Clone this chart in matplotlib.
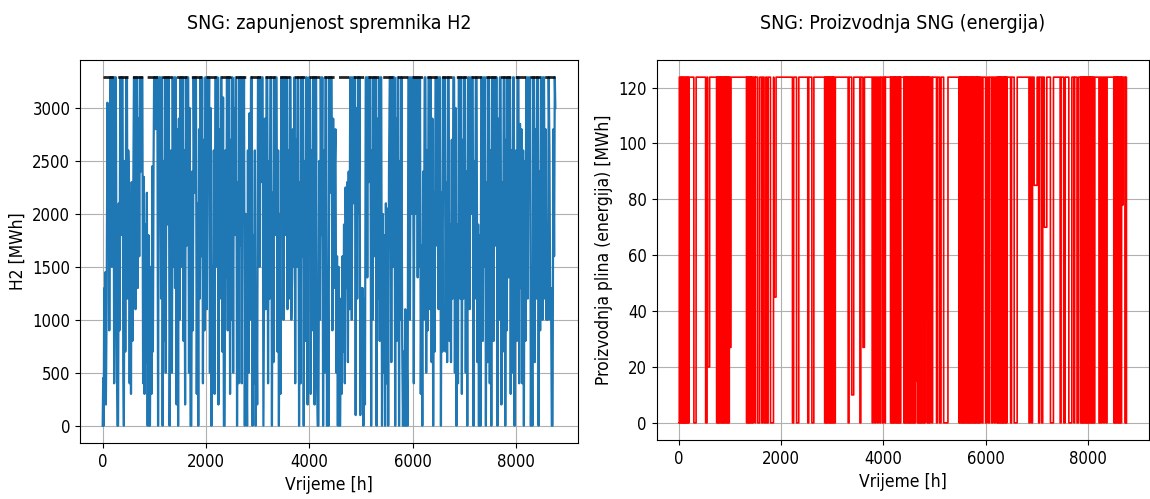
import matplotlib
matplotlib.use("Agg")
import matplotlib.pyplot as plt

# ---------------- data ----------------
# H2 storage level, turning points of the hourly series: (hour, MWh), in blocks of ~500 h
h2_0000 = [(0, 0), (10, 450), (20, 0), (30, 1300), (40, 700), (52, 1450), (62, 200), (78, 1200), (92, 3050), (102, 1800),
           (118, 3000), (128, 900), (145, 3290), (165, 3290), (178, 1500), (192, 3290), (210, 3290), (222, 400), (238, 3290),
           (255, 3290), (270, 900), (285, 0), (298, 0), (312, 2100), (325, 900), (340, 3290), (352, 1800), (368, 3290),
           (385, 3290), (398, 600), (410, 0), (425, 2500), (438, 700), (455, 3290), (470, 3290), (482, 1200), (495, 2600)]
h2_0500 = [(510, 2300), (522, 400), (535, 2200), (548, 300), (562, 2300), (575, 800), (590, 2000), (605, 3290), (620, 3290),
           (635, 1100), (650, 3290), (665, 3290), (680, 1300), (695, 2900), (708, 1600), (722, 3290), (738, 2400), (752, 3290),
           (768, 3290), (782, 400), (796, 2350), (810, 300), (825, 1900), (840, 600), (855, 2200), (870, 0), (885, 1800),
           (900, 0), (915, 0), (930, 1500), (945, 300), (960, 2450), (972, 700), (985, 2500)]
h2_1000 = [(995, 3290), (1010, 3290), (1025, 2800), (1040, 3290), (1058, 3290), (1072, 0), (1088, 3290), (1100, 2100),
           (1115, 3290), (1130, 1200), (1145, 3290), (1160, 0), (1175, 2500), (1190, 800), (1205, 3290), (1220, 500),
           (1235, 3290), (1250, 1900), (1265, 3290), (1280, 3290), (1295, 0), (1310, 1400), (1325, 2600), (1340, 500),
           (1355, 3290), (1370, 1500), (1385, 3290), (1400, 1300), (1415, 3290), (1430, 200), (1445, 2800), (1460, 0),
           (1475, 2900), (1490, 1000)]
h2_1500 = [(1505, 3290), (1520, 1500), (1535, 3290), (1550, 3290), (1565, 800), (1580, 2600), (1595, 200), (1610, 3290),
           (1625, 1700), (1640, 3290), (1655, 3290), (1670, 500), (1685, 3000), (1700, 0), (1715, 0), (1730, 2400),
           (1745, 900), (1760, 3290), (1775, 2200), (1790, 3290), (1805, 3290), (1820, 300), (1835, 2100), (1850, 0),
           (1865, 2800), (1880, 1200), (1895, 3290), (1910, 1600), (1925, 3290), (1940, 400), (1955, 2700), (1970, 900),
           (1985, 3290)]
h2_2000 = [(2000, 3290), (2015, 1100), (2030, 3290), (2045, 2400), (2060, 3290), (2075, 500), (2090, 3000), (2105, 0),
           (2120, 1500), (2135, 600), (2150, 2600), (2165, 300), (2180, 3290), (2195, 3290), (2210, 1500), (2225, 3290),
           (2240, 200), (2255, 2800), (2270, 1200), (2285, 3290), (2300, 3290), (2315, 700), (2330, 3100), (2345, 0),
           (2360, 0), (2375, 2600), (2390, 1400), (2405, 3290), (2420, 900), (2435, 3290), (2450, 3290), (2465, 300),
           (2480, 2700), (2495, 1000)]
h2_2500 = [(2510, 3290), (2525, 500), (2540, 3000), (2555, 1800), (2570, 3290), (2585, 3290), (2600, 0), (2615, 2300),
           (2630, 400), (2645, 3290), (2660, 1700), (2675, 3290), (2690, 400), (2705, 3290), (2720, 2200), (2735, 3290),
           (2750, 0), (2765, 2000), (2780, 800), (2795, 0), (2810, 2600), (2825, 500), (2840, 2950), (2855, 1000),
           (2870, 3290), (2885, 3290), (2900, 0), (2915, 1800), (2930, 400), (2945, 2600), (2960, 0), (2975, 1300),
           (2990, 200)]
h2_3000 = [(3005, 3290), (3020, 3290), (3035, 1500), (3050, 3290), (3065, 2300), (3080, 3290), (3095, 3290), (3110, 0),
           (3125, 1400), (3140, 2900), (3155, 1100), (3170, 3290), (3185, 3290), (3200, 400), (3215, 2500), (3230, 1200),
           (3245, 3290), (3260, 3290), (3275, 0), (3290, 2200), (3305, 600), (3320, 3290), (3335, 1800), (3350, 3290),
           (3365, 3290), (3380, 700), (3395, 2600), (3410, 0), (3425, 2000), (3440, 300), (3455, 3290), (3470, 2100),
           (3485, 3290)]
h2_3500 = [(3500, 1000), (3515, 3290), (3530, 3290), (3545, 1800), (3560, 3290), (3575, 1100), (3590, 2600), (3605, 1200),
           (3620, 3290), (3635, 3290), (3650, 1000), (3665, 1400), (3680, 2800), (3695, 1500), (3710, 3290), (3725, 400),
           (3740, 2700), (3755, 1500), (3770, 3290), (3785, 3290), (3800, 0), (3815, 2300), (3830, 400), (3845, 3290),
           (3860, 1600), (3875, 3290), (3890, 0), (3905, 2500), (3920, 800), (3935, 3290), (3950, 3290), (3965, 200),
           (3980, 2300)]
h2_4000 = [(3995, 3290), (4010, 3290), (4025, 300), (4040, 2600), (4055, 900), (4070, 3290), (4085, 3290), (4100, 200),
           (4115, 3290), (4130, 3290), (4145, 500), (4160, 0), (4175, 0), (4190, 2500), (4205, 1000), (4220, 3290),
           (4235, 1800), (4250, 3290), (4265, 0), (4280, 2600), (4295, 500), (4310, 3290), (4325, 3290), (4340, 0),
           (4355, 1500), (4370, 0), (4385, 3290), (4400, 2200), (4415, 3290), (4430, 3290), (4445, 900), (4460, 2900),
           (4475, 1300), (4490, 2400)]
h2_4500 = [(4505, 2800), (4520, 500), (4535, 1600), (4550, 0), (4565, 1500), (4580, 0), (4595, 0), (4610, 1200),
           (4625, 300), (4640, 1600), (4655, 700), (4670, 1900), (4685, 400), (4700, 2250), (4715, 1300), (4730, 2300),
           (4745, 600), (4760, 2400), (4775, 1100), (4790, 3290), (4805, 3290), (4820, 1000), (4835, 3290), (4850, 2100),
           (4865, 3290), (4880, 3290), (4895, 100), (4910, 3000), (4925, 1200), (4940, 3290), (4955, 2000), (4970, 3290),
           (4985, 100)]
h2_5000 = [(5000, 1300), (5015, 500), (5030, 1300), (5045, 0), (5060, 1200), (5075, 200), (5090, 3290), (5105, 3290),
           (5120, 1400), (5135, 3290), (5150, 2300), (5165, 3290), (5180, 3290), (5195, 0), (5210, 2600), (5225, 1000),
           (5240, 3290), (5255, 1600), (5270, 3290), (5285, 3290), (5300, 0), (5315, 2900), (5330, 1200), (5345, 3290),
           (5360, 800), (5375, 3290), (5390, 3290), (5405, 0), (5420, 2000), (5435, 500), (5450, 1800), (5465, 0),
           (5480, 2100), (5495, 400)]
h2_5500 = [(5510, 2050), (5525, 0), (5540, 2400), (5555, 3290), (5570, 3290), (5585, 600), (5600, 3290), (5615, 3290),
           (5630, 1500), (5645, 3290), (5660, 0), (5675, 2900), (5690, 800), (5705, 3290), (5720, 3290), (5735, 0),
           (5750, 2500), (5765, 1000), (5780, 3290), (5795, 800), (5810, 0), (5825, 700), (5840, 0), (5855, 1100),
           (5870, 0), (5885, 600), (5900, 0), (5915, 3290), (5930, 3290), (5945, 1000), (5960, 3290), (5975, 2000),
           (5990, 3290)]
h2_6000 = [(6005, 3290), (6020, 400), (6035, 3290), (6050, 2000), (6065, 3290), (6080, 3290), (6095, 1400), (6110, 3290),
           (6125, 1500), (6140, 3290), (6155, 300), (6170, 1700), (6185, 0), (6200, 2400), (6215, 1000), (6230, 3290),
           (6245, 3290), (6260, 500), (6275, 2600), (6290, 900), (6305, 3290), (6320, 3290), (6335, 1100), (6350, 3290),
           (6365, 600), (6380, 2900), (6395, 0), (6410, 2200), (6425, 700), (6440, 3290), (6455, 3290), (6470, 1700),
           (6485, 3290)]
h2_6500 = [(6500, 1100), (6515, 3290), (6530, 3290), (6545, 0), (6560, 2200), (6575, 700), (6590, 3290), (6605, 2700),
           (6620, 3290), (6635, 700), (6650, 2300), (6665, 600), (6680, 3290), (6695, 3290), (6710, 800), (6725, 1900),
           (6740, 600), (6755, 2700), (6770, 1200), (6785, 3290), (6800, 3290), (6815, 500), (6830, 3000), (6845, 0),
           (6860, 1900), (6875, 400), (6890, 3290), (6905, 3290), (6920, 1200), (6935, 3290), (6950, 300), (6965, 2700),
           (6980, 1200), (6995, 3290)]
h2_7000 = [(7010, 3290), (7025, 500), (7040, 2400), (7055, 0), (7070, 3290), (7085, 3290), (7100, 1100), (7115, 3290),
           (7130, 2000), (7145, 3290), (7160, 3290), (7175, 0), (7190, 2500), (7205, 1200), (7220, 3290), (7235, 3290),
           (7250, 600), (7265, 1900), (7280, 0), (7295, 1800), (7310, 0), (7325, 3290), (7340, 3290), (7355, 800),
           (7370, 3290), (7385, 1500), (7400, 3290), (7415, 0), (7430, 2300), (7445, 600), (7460, 3290), (7475, 3290),
           (7490, 400)]
h2_7500 = [(7505, 2600), (7520, 0), (7535, 3290), (7550, 3290), (7565, 800), (7580, 3290), (7595, 1700), (7610, 3290),
           (7625, 3290), (7640, 0), (7655, 2900), (7670, 1000), (7685, 3290), (7700, 3290), (7715, 200), (7730, 2300),
           (7745, 700), (7760, 3290), (7775, 3290), (7790, 0), (7805, 2700), (7820, 900), (7835, 3290), (7850, 1400),
           (7865, 3290), (7880, 3290), (7895, 300), (7910, 2600), (7925, 500), (7940, 3290), (7955, 3290), (7970, 0),
           (7985, 2100)]
h2_8000 = [(8000, 2600), (8015, 800), (8030, 3290), (8045, 3290), (8060, 400), (8075, 2850), (8090, 1300), (8105, 2800),
           (8120, 400), (8135, 2600), (8150, 0), (8165, 2500), (8180, 800), (8195, 3290), (8210, 3290), (8225, 1200),
           (8240, 3290), (8255, 2500), (8270, 3290), (8285, 0), (8300, 1500), (8315, 0), (8330, 3290), (8345, 3290),
           (8360, 600), (8375, 2800), (8390, 1200), (8405, 3290), (8420, 3290), (8435, 0), (8450, 2400), (8465, 900),
           (8480, 3290), (8495, 3290)]
h2_8500 = [(8510, 1000), (8525, 3290), (8540, 3290), (8555, 1200), (8570, 2800), (8585, 1000), (8600, 1300), (8615, 1000),
           (8630, 3290), (8645, 2600), (8660, 1000), (8675, 1300), (8690, 0), (8705, 0), (8720, 2800), (8735, 1600),
           (8748, 3290), (8759, 3000)]
h2_capacity = 3290  # dashed line (max storage)

# SNG production: periods where production drops below full level (start h, end h, level MWh)
sng_full = 123.7
sng_off_start = [0, 16, 40, 64, 88, 112, 136, 160, 184,
                 290, 520, 560,
                 735, 759, 783, 807, 831, 855, 879, 903, 927, 951, 975, 999,
                 1320, 1344, 1368, 1392, 1416, 1440, 1490, 1540, 1620, 1665, 1720, 1790, 1855,
                 2220, 2300, 2520, 2600,
                 2850, 2874, 2898, 2922, 2946, 2970, 2994, 3018, 3042,
                 3310, 3380, 3540, 3600, 3780, 3830, 3880, 3930, 3980, 4030,
                 4140, 4164, 4188, 4212, 4236, 4260, 4284, 4308, 4330,
                 4400, 4424, 4448, 4472, 4496, 4520, 4544, 4568, 4592, 4616, 4640, 4664, 4688, 4712, 4736, 4760, 4784, 4808, 4832, 4856, 4880, 4904,
                 4950, 5040, 5100, 5180,
                 5480, 5504, 5528, 5552, 5576, 5600, 5624, 5648, 5672, 5696, 5720, 5744, 5768, 5792, 5816, 5840, 5864, 5888,
                 5930, 6000, 6060, 6120, 6170,
                 6220, 6244, 6268, 6292, 6316, 6340, 6364, 6388, 6412,
                 6490, 6560, 6850, 6900, 6950, 7040, 7100, 7150, 7270,
                 7460, 7530, 7630, 7730, 7790,
                 7860, 7884, 7908, 7932, 7956, 7980, 8004, 8028, 8052, 8076, 8100, 8124,
                 8220, 8260, 8310, 8360,
                 8510, 8534, 8558, 8582, 8606, 8630, 8654, 8678, 8730]
sng_off_end = [6, 30, 54, 78, 102, 126, 150, 174, 198,
               335, 550, 600,
               745, 769, 793, 817, 841, 865, 889, 913, 937, 961, 985, 1018,
               1330, 1354, 1378, 1402, 1426, 1455, 1498, 1580, 1640, 1700, 1745, 1850, 1900,
               2245, 2345, 2540, 2640,
               2860, 2884, 2908, 2932, 2956, 2980, 3004, 3028, 3060,
               3330, 3420, 3560, 3630, 3800, 3850, 3900, 3945, 4000, 4040,
               4150, 4174, 4198, 4222, 4246, 4270, 4294, 4318, 4340,
               4410, 4434, 4458, 4482, 4506, 4530, 4554, 4578, 4602, 4626, 4650, 4674, 4698, 4722, 4746, 4770, 4794, 4818, 4842, 4866, 4890, 4918,
               4965, 5060, 5130, 5265,
               5490, 5514, 5538, 5562, 5586, 5610, 5634, 5658, 5682, 5706, 5730, 5754, 5778, 5802, 5826, 5850, 5874, 5900,
               5950, 6030, 6080, 6140, 6190,
               6230, 6254, 6278, 6302, 6326, 6350, 6374, 6398, 6420,
               6510, 6620, 6870, 6920, 7010, 7060, 7120, 7200, 7330,
               7480, 7560, 7690, 7745, 7820,
               7870, 7894, 7918, 7942, 7966, 7990, 8014, 8038, 8062, 8086, 8110, 8140,
               8240, 8280, 8330, 8380,
               8520, 8544, 8568, 8592, 8616, 8640, 8664, 8695, 8745]
sng_off_level = [0, 0, 0, 0, 0, 0, 0, 0, 0,
                 0, 0, 20,
                 0, 0, 0, 0, 0, 0, 0, 0, 0, 0, 0, 27,
                 0, 0, 0, 0, 0, 0, 0, 0, 0, 0, 0, 0, 45,
                 0, 0, 0, 0,
                 0, 0, 0, 0, 0, 0, 0, 0, 0,
                 0, 10, 0, 27, 0, 0, 0, 0, 0, 0,
                 0, 0, 0, 0, 0, 0, 0, 0, 0,
                 0, 0, 0, 0, 0, 0, 0, 0, 0, 0, 15, 0, 0, 0, 0, 0, 0, 0, 37, 0, 0, 0,
                 0, 0, 0, 0,
                 0, 0, 0, 0, 0, 0, 0, 0, 0, 0, 0, 0, 0, 0, 0, 0, 0, 0,
                 0, 0, 0, 0, 0,
                 0, 0, 0, 0, 0, 0, 0, 0, 0,
                 0, 0, 0, 0, 85, 0, 0, 70, 0,
                 0, 0, 0, 0, 0,
                 0, 0, 0, 0, 0, 0, 0, 0, 0, 0, 0, 0,
                 0, 0, 0, 0,
                 0, 0, 0, 0, 0, 0, 0, 78, 0]
sng_last_hour = 8759
sng_last_value = 0

# ---------------- assemble series ----------------
h2_points = (h2_0000 + h2_0500 + h2_1000 + h2_1500 + h2_2000 + h2_2500 + h2_3000 + h2_3500 + h2_4000
             + h2_4500 + h2_5000 + h2_5500 + h2_6000 + h2_6500 + h2_7000 + h2_7500 + h2_8000 + h2_8500)
h2_hours = [p[0] for p in h2_points]
h2_values = [p[1] for p in h2_points]

sng_t, sng_v = [], []
for s, e, lvl in zip(sng_off_start, sng_off_end, sng_off_level):
    if s == 0:
        sng_t += [0, e - 1, e]
        sng_v += [lvl, lvl, sng_full]
    else:
        sng_t += [s, s + 1, e - 1, e]
        sng_v += [sng_full, lvl, lvl, sng_full]
sng_t += [sng_last_hour - 1, sng_last_hour]
sng_v += [sng_full, sng_last_value]

# ---------------- plot ----------------
plt.rcParams['font.family'] = ['DejaVu Sans']
plt.rcParams['font.stretch'] = 'condensed'
fig = plt.figure(figsize=(11.5, 4.99), dpi=100)
ax1 = fig.add_axes([0.0696, 0.112, 0.433, 0.768])
ax2 = fig.add_axes([0.571, 0.118, 0.428, 0.762])

ax1.plot(h2_hours, h2_values, color='#1f77b4', lw=1.6)
ax1.plot([h2_hours[0], h2_hours[-1]], [h2_capacity, h2_capacity], '--', color='black', lw=2, alpha=0.85)
ax1.set_title('SNG: zapunjenost spremnika H2', fontsize=14, pad=22)
ax1.set_xlabel('Vrijeme [h]', fontsize=12.5)
ax1.set_ylabel('H2 [MWh]', fontsize=12.5)
ax1.grid(True)
ax1.set_xticks([0, 2000, 4000, 6000, 8000])
ax1.set_yticks([0, 500, 1000, 1500, 2000, 2500, 3000])

ax2.plot(sng_t, sng_v, color='red', lw=1.2)
ax2.set_title('SNG: Proizvodnja SNG (energija)', fontsize=14, pad=22)
ax2.set_xlabel('Vrijeme [h]', fontsize=12.5)
ax2.set_ylabel('Proizvodnja plina (energija) [MWh]', fontsize=12.5)
ax2.grid(True)
ax2.set_xticks([0, 2000, 4000, 6000, 8000])
ax2.set_yticks([0, 20, 40, 60, 80, 100, 120])

for ax in (ax1, ax2):
    ax.tick_params(labelsize=12)

fig.savefig('out.png', dpi=100)
